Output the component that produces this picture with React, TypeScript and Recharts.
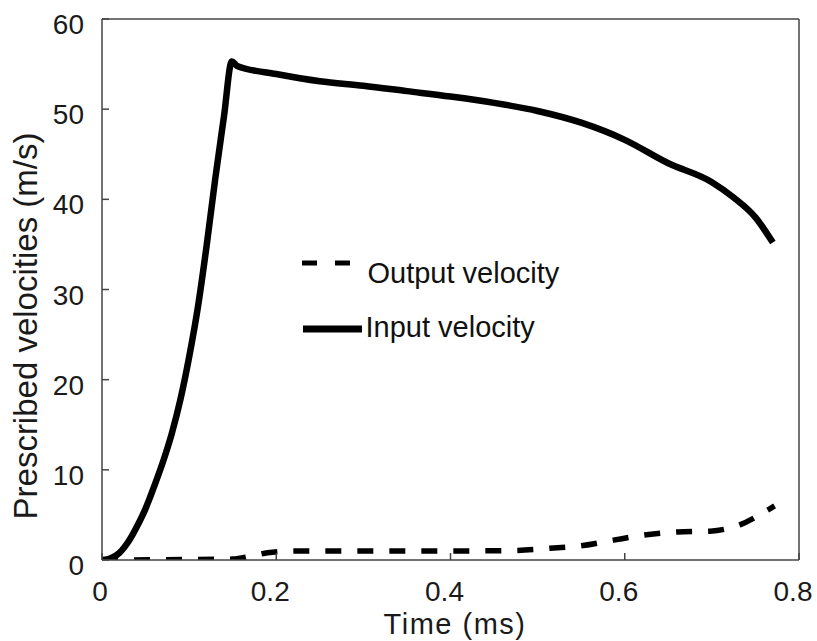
import { LineChart, Line, XAxis, YAxis, Legend } from 'recharts';

const FONT = '"Liberation Sans", Arial, Helvetica, sans-serif';

// input velocity (solid)
const inputTime = [0, 0.01, 0.02, 0.03, 0.04, 0.05, 0.06, 0.07, 0.08, 0.09, 0.1, 0.11, 0.12, 0.13, 0.14, 0.149,
  0.155, 0.2, 0.25, 0.3, 0.35, 0.4, 0.45, 0.5, 0.55, 0.6, 0.65, 0.7, 0.725, 0.75, 0.77];
const inputVelocity = [0, 0.2, 0.8, 2.0, 3.7, 5.7, 8.2, 10.9, 14.0, 17.8, 22.5, 28.0, 34.8, 42.3, 49.2, 55.3,
  54.8, 53.9, 53.1, 52.6, 52.0, 51.4, 50.7, 49.8, 48.5, 46.6, 44.0, 41.9, 40.2, 38.0, 35.2];

// output velocity (dashed)
const outputTime = [0, 0.15, 0.17, 0.19, 0.22, 0.3, 0.4, 0.47, 0.514, 0.552, 0.587, 0.625, 0.66, 0.698, 0.732, 0.765, 0.772];
const outputVelocity = [0, 0.1, 0.4, 0.8, 1.0, 1.0, 1.0, 1.05, 1.3, 1.6, 2.2, 2.8, 3.1, 3.2, 3.9, 5.6, 6.0];

const xTicks = [0, 0.2, 0.4, 0.6, 0.8];
const yTicks = [0, 10, 20, 30, 40, 50, 60];

const inputData = inputTime.map((t, i) => ({ t, v: inputVelocity[i] }));
const outputData = outputTime.map((t, i) => ({ t, v: outputVelocity[i] }));

const axisStroke = { stroke: '#444', strokeWidth: 1.5 };

const BottomTick = (props: any) => {
  const { x, y, payload } = props;
  return (
    <text x={x - (payload.value === 0 ? 2 : 6)} y={y} textAnchor="middle" fontSize={28} fontFamily={FONT} fill="#1a1a1a">
      {payload.value}
    </text>
  );
};

const LeftTick = (props: any) => {
  const { x, y, payload } = props;
  return (
    <text x={x} y={y + 15} textAnchor="end" fontSize={28} fontFamily={FONT} fill="#1a1a1a">
      {payload.value}
    </text>
  );
};

const XLabel = () => (
  <text x={455} y={634} textAnchor="middle" fontSize={29} letterSpacing={1.5} fontFamily={FONT} fill="#1a1a1a">
    Time (ms)
  </text>
);

const YLabel = () => (
  <text transform="translate(37,326) rotate(-90)" textAnchor="middle" fontSize={33} fontFamily={FONT} fill="#1a1a1a">
    Prescribed velocities (m/s)
  </text>
);

const LegendBox = () => (
  <div style={{ position: 'relative', width: 300, height: 100, fontFamily: FONT, color: '#111' }}>
    <svg style={{ position: 'absolute', left: 0, top: 18 }} width={60} height={10}>
      <line x1={2} y1={5} x2={53} y2={5} stroke="#000" strokeWidth={5} strokeDasharray="15 18" />
    </svg>
    <span style={{ position: 'absolute', left: 67.5, top: 18.5, fontSize: 29, lineHeight: '29px', whiteSpace: 'nowrap' }}>
      Output velocity
    </span>
    <svg style={{ position: 'absolute', left: 0, top: 84 }} width={70} height={10}>
      <line x1={3} y1={5} x2={62} y2={5} stroke="#000" strokeWidth={7} />
    </svg>
    <span style={{ position: 'absolute', left: 65.5, top: 72.5, fontSize: 29, lineHeight: '29px', whiteSpace: 'nowrap' }}>
      Input velocity
    </span>
  </div>
);

export default function App() {
  return (
    <div style={{ position: 'absolute', left: 0, top: 0, background: '#fff' }}>
      <LineChart width={817} height={641} margin={{ top: 18, right: 17, bottom: 0, left: 0 }}>
        <XAxis
          dataKey="t"
          type="number"
          domain={[0, 0.8]}
          ticks={xTicks}
          height={81}
          axisLine={axisStroke}
          tickLine={axisStroke}
          tickSize={-7}
          tickMargin={48}
          tick={<BottomTick />}
          label={<XLabel />}
          allowDataOverflow
        />
        <XAxis
          xAxisId="top"
          orientation="top"
          dataKey="t"
          type="number"
          domain={[0, 0.8]}
          ticks={xTicks}
          height={1}
          axisLine={axisStroke}
          tickLine={axisStroke}
          tickSize={-7}
          tick={false}
          allowDataOverflow
        />
        <YAxis
          type="number"
          domain={[0, 60]}
          ticks={yTicks}
          width={102}
          axisLine={axisStroke}
          tickLine={axisStroke}
          tickSize={-7}
          tickMargin={25}
          tick={<LeftTick />}
          label={<YLabel />}
          allowDataOverflow
        />
        <YAxis
          yAxisId="right"
          orientation="right"
          type="number"
          domain={[0, 60]}
          ticks={yTicks}
          width={1}
          axisLine={axisStroke}
          tickLine={axisStroke}
          tickSize={-7}
          tick={false}
          allowDataOverflow
        />
        <Legend
          layout="horizontal"
          verticalAlign="middle"
          align="center"
          content={() => <LegendBox />}
          wrapperStyle={{ left: 300, top: 240, width: 300, height: 100 }}
        />
        <Line
          data={outputData}
          dataKey="v"
          name="Output velocity"
          type="monotone"
          stroke="#000"
          strokeWidth={5.5}
          strokeDasharray="16 16"
          dot={false}
          isAnimationActive={false}
        />
        <Line
          data={inputData}
          dataKey="v"
          name="Input velocity"
          type="monotone"
          stroke="#000"
          strokeWidth={6.5}
          dot={false}
          isAnimationActive={false}
        />
      </LineChart>
    </div>
  );
}
